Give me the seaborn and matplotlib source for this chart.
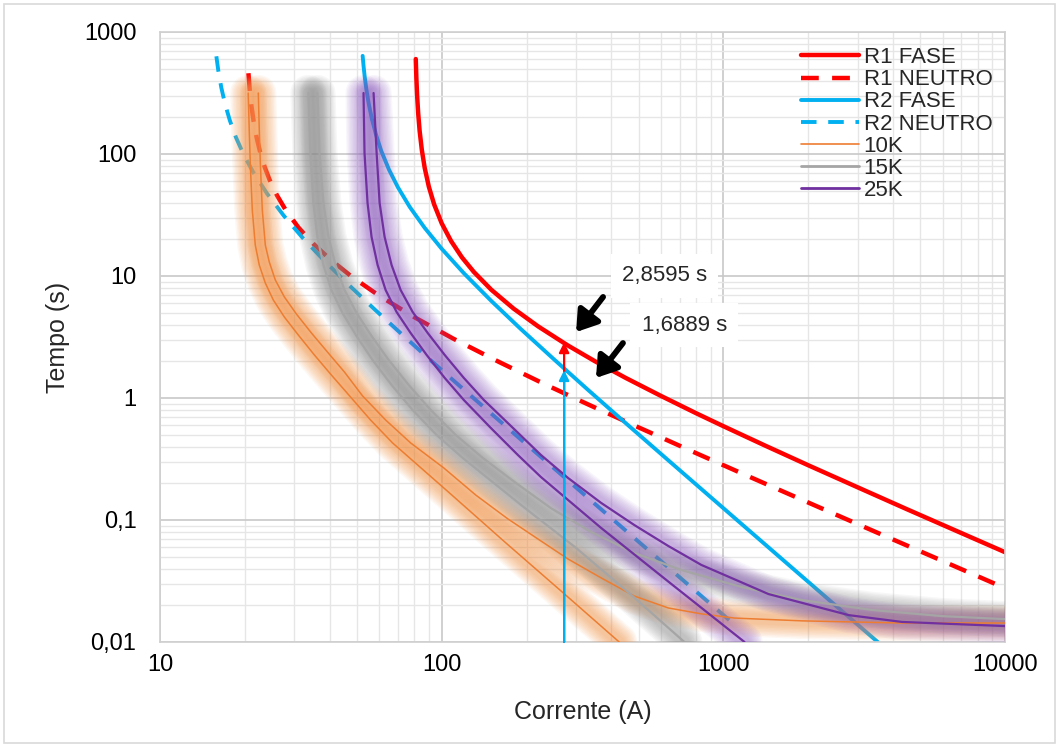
import matplotlib
matplotlib.use("Agg")
import matplotlib.pyplot as plt
import seaborn as sns
from matplotlib.lines import Line2D
from matplotlib.patches import Rectangle
from matplotlib.ticker import FixedLocator, LogLocator, NullFormatter

# =====================================================
# DATA
# =====================================================

# relay curves: current (A) / time (s)
r1_fase_i = [80.9, 81.3, 81.8, 82.5, 83.5, 85, 87, 90, 94, 100, 108, 118, 130, 150, 180, 220, 280,
             350, 450, 600, 800, 1000, 1400, 2000, 3000, 4500, 6500, 10000]
r1_fase_t = [600, 415, 300, 216, 154, 108, 77.1, 54, 38.6, 27, 19.3, 14.2, 10.8, 7.71, 5.4, 3.86, 2.70,
             2.0, 1.46, 1.04, 0.75, 0.587, 0.409, 0.281, 0.185, 0.122, 0.0841, 0.0544]

r1_neutro_i = [20.6, 20.8, 21.1, 21.5, 22, 22.7, 23.5, 24.5, 26, 28, 31, 35, 40, 48, 60, 80, 110, 160,
               230, 330, 500, 800, 1300, 2000, 3500, 6000, 10000]
r1_neutro_t = [459, 344, 250, 184, 138, 102, 78.7, 61.2, 45.9, 34.4, 25.0, 18.4, 13.8, 9.84, 6.89, 4.59,
               3.06, 1.97, 1.31, 0.888, 0.574, 0.353, 0.215, 0.139, 0.0791, 0.0461, 0.0276]

r2_fase_i = [52.4, 52.8, 53.3, 54, 55, 56.5, 58.5, 61, 65, 70, 77, 87, 100, 120, 150, 190, 250, 330,
             450, 620, 850, 1200, 1700, 2500, 3530]
r2_fase_t = [637, 524, 428, 340, 262, 194, 143, 106, 74.3, 53.0, 36.8, 24.8, 16.7, 10.5, 6.24, 3.71,
             2.08, 1.17, 0.622, 0.326, 0.173, 0.0866, 0.0431, 0.0199, 0.0100]

r2_neutro_i = [15.85, 16.1, 16.5, 17, 17.7, 18.6, 19.8, 21.5, 24, 27.5, 32, 38, 46, 58, 75, 100, 135,
               185, 260, 370, 530, 760, 1067]
r2_neutro_t = [632, 484, 351, 259, 188, 137, 99.1, 69.8, 47.2, 31.2, 20.7, 13.6, 8.76, 5.28, 3.07,
               1.69, 0.920, 0.487, 0.246, 0.121, 0.0590, 0.0287, 0.0146]

# fuse curves: minimum melt / total clear
k10_min_i = [20.56, 20.74, 20.91, 21.26, 21.79, 22.51, 23.65, 25.24, 27.63, 30.98, 35.33, 40.61, 47.45,
             55.90, 66.93, 107.7, 169.0, 265.1, 426.5]
k10_min_t = [316, 157, 84.4, 34.8, 17.9, 12.3, 8.76, 6.36, 4.61, 3.28, 2.25, 1.54, 1.02,
             0.660, 0.428, 0.163, 0.0648, 0.0262, 0.01]
k10_tot_i = [22.33, 22.51, 22.70, 23.07, 23.65, 24.43, 25.66, 27.63, 30.48, 34.47, 39.30, 45.17, 52.35,
             63.22, 77.56, 101.7, 132.1, 171.8, 225.0, 280.8, 368.1, 482.4, 637.3, 835.0, 1095, 1895,
             4300, 10000]
k10_tot_t = [316, 157, 84.4, 34.8, 17.9, 13.0, 9.27, 6.73, 4.88, 3.41, 2.38, 1.63, 1.04,
             0.660, 0.428, 0.267, 0.160, 0.102, 0.0673, 0.0479, 0.0335, 0.0238, 0.0190, 0.0170, 0.0157,
             0.0149, 0.0143, 0.0143]

k15_min_i = [33.63, 34.19, 35.04, 36.21, 38.03, 40.61, 44.44, 49.84, 56.83, 66.37, 78.84, 95.98,
             118.8, 191.1, 299.9, 470.7, 726.6]
k15_min_t = [316, 102, 39.7, 20.9, 12.3, 7.68, 4.98, 3.22, 2.05, 1.28, 0.797, 0.497,
             0.322, 0.133, 0.0590, 0.0243, 0.01]
k15_tot_i = [36.21, 36.80, 38.03, 39.62, 41.96, 45.17, 49.84, 56.36, 64.79, 76.30, 91.39, 112.2, 140.0,
             183.4, 244.3, 339.1, 482.4, 709.0, 1159, 1895, 3364, 5968, 10000]
k15_tot_t = [316, 102, 39.7, 20.9, 12.3, 7.68, 4.98, 3.22, 2.05, 1.28, 0.797, 0.497, 0.322,
             0.201, 0.125, 0.0797, 0.0537, 0.0389, 0.0282, 0.0221, 0.0183, 0.0163, 0.0154]

k25_min_i = [52.78, 53.21, 54.54, 56.36, 59.22, 63.22, 69.15, 77.56, 88.44, 102.5, 119.8, 149.4,
             186.4, 225.0, 368.1, 653.2, 1188]
k25_min_t = [316, 102, 39.7, 20.9, 12.3, 7.68, 5.07, 3.41, 2.25, 1.46, 0.963, 0.568,
             0.341, 0.225, 0.0860, 0.0299, 0.01]
k25_tot_i = [57.29, 58.74, 60.19, 62.70, 66.37, 71.46, 78.84, 89.17, 102.5, 119.8, 141.1, 179.0,
             225.0, 280.8, 368.1, 482.4, 637.3, 835.0, 1446, 2786, 4300, 10000]
k25_tot_t = [316, 102, 39.7, 20.9, 12.3, 7.68, 5.07, 3.41, 2.25, 1.46, 0.963, 0.568,
             0.341, 0.221, 0.138, 0.0910, 0.0612, 0.0428, 0.0247, 0.0166, 0.0146, 0.0135]

# operating point
fault_current = 272
r1_time = 2.8595
r2_time = 1.6889

x_ticks = [10, 100, 1000, 10000]
x_tick_labels = ["10", "100", "1000", "10000"]
y_ticks = [0.01, 0.1, 1, 10, 100, 1000]
y_tick_labels = ["0,01", "0,1", "1", "10", "100", "1000"]

# =====================================================
# STYLE
# =====================================================
sns.set_style("white")
plt.rcParams["font.family"] = ["Liberation Sans", "DejaVu Sans"]

RED = "#FF0000"
BLUE = "#00B0F0"
ORANGE = "#ED7D31"
GRAY = "#A5A5A5"
PURPLE = "#7030A0"

fig = plt.figure(figsize=(10.59, 7.47), dpi=100)
ax = fig.add_axes([0.1511, 0.1406, 0.798, 0.8166])

ax.set_xscale("log")
ax.set_yscale("log")
ax.set_xlim(10, 10000)
ax.set_ylim(0.01, 1000)


def glow(xs, ys, color, alpha):
    # soft band drawn under a fuse curve (many thin layers -> blurred edge)
    for w in range(26, 7, -2):
        ax.plot(xs, ys, color=color, lw=w, alpha=alpha, solid_capstyle="round",
                solid_joinstyle="round", zorder=3)


# relay curves
sns.lineplot(x=r1_fase_i, y=r1_fase_t, ax=ax, color=RED, linewidth=3.2,
             sort=False, estimator=None, zorder=2)
sns.lineplot(x=r1_neutro_i, y=r1_neutro_t, ax=ax, color=RED, linewidth=3.2,
             linestyle=(0, (4, 3)), sort=False, estimator=None, zorder=2)
sns.lineplot(x=r2_fase_i, y=r2_fase_t, ax=ax, color=BLUE, linewidth=2.8,
             sort=False, estimator=None, zorder=2)
sns.lineplot(x=r2_neutro_i, y=r2_neutro_t, ax=ax, color=BLUE, linewidth=2.8,
             linestyle=(0, (4, 3)), sort=False, estimator=None, zorder=2)

# fuse glows
glow(k10_min_i, k10_min_t, "#F49A52", 0.075)
glow(k10_tot_i, k10_tot_t, "#F49A52", 0.075)
glow(k15_min_i, k15_min_t, "#8C8C8C", 0.065)
glow(k15_tot_i, k15_tot_t, "#8C8C8C", 0.065)
glow(k25_min_i, k25_min_t, "#8A55BE", 0.055)
glow(k25_tot_i, k25_tot_t, "#8A55BE", 0.055)

# fuse curves
for xs, ys, c, w in [(k10_min_i, k10_min_t, ORANGE, 1.1), (k10_tot_i, k10_tot_t, ORANGE, 1.1),
                     (k15_min_i, k15_min_t, GRAY, 1.6), (k15_tot_i, k15_tot_t, GRAY, 1.6),
                     (k25_min_i, k25_min_t, PURPLE, 1.6), (k25_tot_i, k25_tot_t, PURPLE, 1.6)]:
    sns.lineplot(x=xs, y=ys, ax=ax, color=c, linewidth=w, sort=False,
                 estimator=None, zorder=4)

# vertical arrows at the fault current
ax.annotate("", xy=(fault_current, r1_time), xytext=(fault_current, 0.01),
            arrowprops=dict(arrowstyle="-|>,head_width=0.3,head_length=0.6",
                            color=RED, lw=1.6, shrinkA=0, shrinkB=0), zorder=6)
ax.annotate("", xy=(fault_current, r2_time), xytext=(fault_current, 0.01),
            arrowprops=dict(arrowstyle="-|>,head_width=0.3,head_length=0.6",
                            color=BLUE, lw=1.6, shrinkA=0, shrinkB=0), zorder=6)

# callouts
ax.text(617, 10, "2,8595 s", fontsize=16, ha="center", va="center", zorder=7,
        bbox=dict(facecolor="white", edgecolor="none", pad=8))
ax.text(726, 3.96, "1,6889 s", fontsize=16, ha="center", va="center", zorder=7,
        bbox=dict(facecolor="white", edgecolor="none", pad=8))
ax.annotate("", xy=(300, 3.47), xytext=(374, 6.73),
            arrowprops=dict(arrowstyle="-|>,head_width=0.5,head_length=0.75",
                            color="black", lw=4.2, mutation_scale=16,
                            shrinkA=0, shrinkB=0), zorder=8)
ax.annotate("", xy=(353, 1.46), xytext=(440, 2.82),
            arrowprops=dict(arrowstyle="-|>,head_width=0.5,head_length=0.75",
                            color="black", lw=4.2, mutation_scale=16,
                            shrinkA=0, shrinkB=0), zorder=8)

# axes, grid, ticks
ax.xaxis.set_major_locator(FixedLocator(x_ticks))
ax.yaxis.set_major_locator(FixedLocator(y_ticks))
ax.set_xticklabels(x_tick_labels)
ax.set_yticklabels(y_tick_labels)
ax.xaxis.set_minor_locator(LogLocator(base=10, subs=range(2, 10)))
ax.yaxis.set_minor_locator(LogLocator(base=10, subs=range(2, 10)))
ax.xaxis.set_minor_formatter(NullFormatter())
ax.yaxis.set_minor_formatter(NullFormatter())
ax.grid(which="major", color="#c8c8c8", lw=1.2, zorder=0)
ax.grid(which="minor", color="#e6e6e6", lw=1.0, zorder=0)
ax.set_axisbelow(True)
ax.tick_params(which="both", length=0, labelsize=17, colors="#000000")
ax.tick_params(axis="y", pad=17)
ax.tick_params(axis="x", pad=9)
for s in ax.spines.values():
    s.set_color("#d0d0d0")
    s.set_linewidth(1.2)

ax.set_xlabel("Corrente (A)", fontsize=18)
ax.set_ylabel("Tempo (s)", fontsize=18)
ax.xaxis.set_label_coords(0.5, -0.095)
ax.yaxis.set_label_coords(-0.106, 0.5)

# legend
handles = [
    Line2D([], [], color=RED, lw=3.2),
    Line2D([], [], color=RED, lw=3.2, linestyle=(0, (4, 3))),
    Line2D([], [], color=BLUE, lw=2.8),
    Line2D([], [], color=BLUE, lw=2.8, linestyle=(0, (4, 3))),
    Line2D([], [], color=ORANGE, lw=1.2),
    Line2D([], [], color=GRAY, lw=2.0),
    Line2D([], [], color=PURPLE, lw=2.0),
]
labels = ["R1 FASE", "R1 NEUTRO", "R2 FASE", "R2 NEUTRO", "10K", "15K", "25K"]
ax.legend(handles, labels, loc="upper left", bbox_to_anchor=(0.759, 0.975),
          frameon=False, fontsize=16, handlelength=2.6, handletextpad=0.2,
          labelspacing=0.05, borderpad=0, borderaxespad=0)

# outer border of the chart area
fig.patches.append(Rectangle((0.004, 0.006), 0.992, 0.988, transform=fig.transFigure,
                             fill=False, edgecolor="#d9d9d9", lw=1.2))

plt.savefig("out.png", dpi=100)
